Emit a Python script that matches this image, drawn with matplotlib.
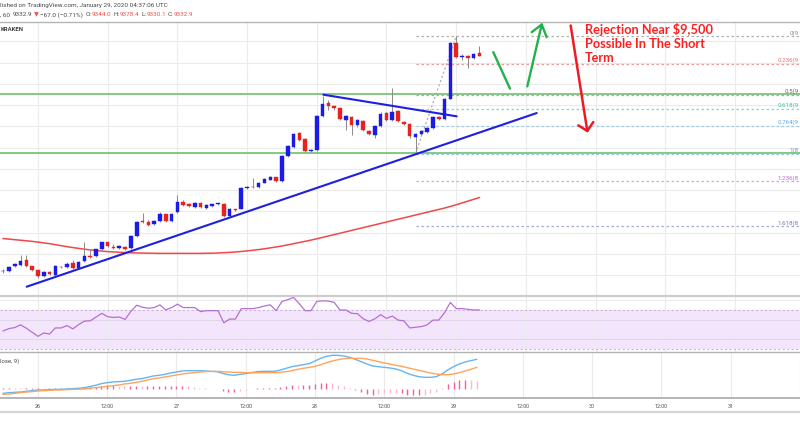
import matplotlib
matplotlib.use("Agg")
import matplotlib.pyplot as plt
from matplotlib.lines import Line2D

W, H = 800, 430

# ---------------- data ----------------
hours = list(range(-6, 77))  # hours since Jan 26 00:00 (60 min candles)
opens = [8317.6, 8320.4, 8341.1, 8347.2, 8370.7, 8341.1, 8322.3, 8294.1, 8315.7, 8301.6,
         8339.2, 8337.8, 8358.0, 8331.7, 8366.0, 8390.9, 8389.5, 8422.4, 8453.9, 8433.2,
         8427.1, 8433.2, 8425.7, 8483.5, 8554.0, 8547.9, 8539.9, 8554.0, 8585.5, 8554.0,
         8596.3, 8641.9, 8633.9, 8619.8, 8640.0, 8616.5, 8625.9, 8632.5, 8635.3, 8577.5,
         8610.4, 8611.8, 8710.5, 8715.2, 8713.8, 8735.9, 8750.0, 8760.8, 8743.4, 8859.5,
         8903.2, 8970.9, 8942.7, 8884.4, 8887.7, 9048.9, 9110.0, 9097.8, 9088.4, 9032.0,
         9045.2, 9005.2, 9025.4, 8978.4, 8961.5, 9001.9, 9061.6, 9028.7, 9071.0, 9020.7,
         9009.9, 8950.2, 8966.2, 8973.7, 8992.5, 9044.2, 9034.8, 9130.7, 9393.9, 9326.2,
         9332.8, 9321.5, 9344.0]
highs = [8328.4, 8342.5, 8355.2, 8394.2, 8394.2, 8344.9, 8326.1, 8319.0, 8319.0, 8347.2,
         8342.5, 8361.3, 8370.7, 8368.4, 8456.7, 8417.7, 8424.8, 8457.7, 8457.7, 8445.9,
         8441.2, 8438.9, 8488.2, 8556.4, 8591.6, 8558.7, 8561.1, 8596.3, 8589.3, 8594.0,
         8676.2, 8652.7, 8638.6, 8645.7, 8643.3, 8633.9, 8636.3, 8641.0, 8638.6, 8615.1,
         8612.8, 8713.8, 8718.5, 8756.1, 8739.7, 8756.1, 8765.5, 8763.2, 8864.2, 8911.2,
         8970.0, 8974.7, 8946.5, 8892.4, 9052.2, 9141.5, 9122.7, 9101.6, 9092.2, 9052.2,
         9049.9, 9033.4, 9028.7, 8981.7, 9005.2, 9066.3, 9066.3, 9179.1, 9075.7, 9024.0,
         9014.6, 8970.0, 8981.7, 8995.8, 9047.5, 9047.5, 9134.5, 9397.7, 9424.9, 9338.9,
         9336.6, 9343.6, 9378.4]
lows = [8309.6, 8316.6, 8337.8, 8344.9, 8337.8, 8319.0, 8287.5, 8290.8, 8300.2, 8297.9,
        8333.1, 8333.1, 8330.8, 8328.4, 8361.3, 8382.5, 8384.8, 8417.7, 8434.2, 8422.4,
        8422.4, 8420.1, 8422.4, 8478.8, 8544.6, 8530.5, 8535.2, 8549.3, 8549.3, 8549.3,
        8591.6, 8624.5, 8619.8, 8615.1, 8615.1, 8610.4, 8622.2, 8629.2, 8572.8, 8572.8,
        8603.4, 8610.4, 8706.8, 8709.1, 8709.1, 8732.6, 8746.7, 8737.3, 8739.7, 8854.8,
        8899.5, 8930.0, 8878.3, 8880.7, 8883.0, 9045.2, 9075.7, 9075.7, 9028.7, 8981.7,
        8958.2, 8998.2, 8977.0, 8958.2, 8944.1, 8998.2, 9024.0, 9024.0, 9021.7, 9005.2,
        8946.5, 8872.2, 8960.6, 8970.0, 8988.8, 9031.1, 9031.1, 9127.4, 9322.5, 9310.7,
        9274.5, 9315.4, 9330.1]
closes = [8320.4, 8339.2, 8350.5, 8366.0, 8341.1, 8322.3, 8295.5, 8312.9, 8304.9, 8342.5,
          8336.4, 8353.3, 8334.5, 8362.7, 8390.9, 8386.2, 8421.0, 8453.9, 8437.9, 8425.7,
          8435.1, 8422.4, 8483.5, 8550.7, 8547.9, 8536.6, 8554.0, 8585.5, 8554.0, 8588.3,
          8644.7, 8627.8, 8624.5, 8640.0, 8618.4, 8630.6, 8633.9, 8638.6, 8577.5, 8611.8,
          8607.1, 8710.5, 8715.2, 8713.8, 8735.9, 8751.4, 8762.2, 8742.0, 8860.9, 8906.5,
          8966.2, 8934.7, 8884.4, 8889.1, 9048.9, 9107.2, 9097.8, 9088.4, 9033.4, 9047.5,
          9005.2, 9028.7, 8981.7, 8962.9, 9001.9, 9060.2, 9028.7, 9067.7, 9025.4, 9009.9,
          8953.5, 8966.2, 8978.4, 8992.5, 9044.2, 9034.8, 9129.8, 9393.9, 9326.2, 9332.8,
          9321.5, 9338.9, 9332.9]
moving_avg = [8471.8, 8469.4, 8466.6, 8464.2, 8461.4, 8458.6, 8455.3, 8451.5, 8447.8, 8443.1,
              8438.4, 8433.7, 8429.5, 8425.7, 8421.9, 8418.6, 8415.4, 8413.0, 8410.7, 8408.8,
              8407.4, 8406.0, 8405.0, 8404.1, 8403.6, 8403.1, 8402.6, 8402.2, 8402.2, 8402.2,
              8402.2, 8402.2, 8402.2, 8402.2, 8402.2, 8402.6, 8403.1, 8404.1, 8405.5, 8406.9,
              8408.8, 8411.1, 8413.9, 8416.8, 8420.1, 8423.8, 8428.0, 8432.3, 8437.0, 8442.1,
              8447.8, 8453.4, 8459.1, 8464.7, 8470.8, 8477.4, 8484.0, 8490.6, 8497.1, 8503.7,
              8510.3, 8516.9, 8523.5, 8530.0, 8536.6, 8543.2, 8549.8, 8556.4, 8562.9, 8569.5,
              8576.1, 8582.7, 8589.3, 8595.8, 8602.4, 8609.0, 8615.6, 8623.1, 8631.1, 8639.5,
              8648.0, 8656.5, 8664.9]
rsi = [48.3, 50.7, 51.8, 54.6, 51.1, 46.9, 42.7, 46.2, 45.1, 51.4,
       51.4, 53.9, 50.4, 54.9, 58.5, 58.8, 62.7, 66.5, 63.0, 62.3,
       62.7, 60.2, 68.6, 74.9, 72.8, 71.8, 72.5, 75.3, 70.0, 72.5,
       76.0, 72.5, 72.5, 72.5, 68.3, 69.3, 69.3, 69.3, 56.7, 60.6,
       60.6, 71.4, 71.4, 71.4, 72.5, 74.2, 75.3, 69.3, 78.8, 80.6,
       83.0, 76.4, 69.3, 69.3, 78.8, 79.5, 79.2, 77.8, 70.0, 70.0,
       66.5, 66.2, 60.9, 58.1, 60.9, 65.1, 61.3, 63.7, 59.5, 58.8,
       51.4, 52.1, 52.8, 54.6, 59.5, 59.5, 67.2, 77.8, 71.4, 71.4,
       70.7, 70.0, 70.0]
macd = [-13, -11, -10, -9, -7, -5, -3, -3, -2, -1,
        -1, 0, 1, 2, 4, 7, 11, 16, 19, 21,
        22, 23, 26, 29, 31, 35, 39, 41, 44, 48,
        51, 54, 55, 55, 55, 54, 53, 52, 47, 43,
        41, 44, 46, 49, 52, 53, 53, 53, 57, 62,
        67, 70, 73, 76, 84, 92, 98, 101, 101, 99,
        95, 89, 82, 75, 69, 67, 65, 63, 60, 55,
        47, 41, 37, 35, 35, 37, 45, 57, 67, 75,
        81, 85, 89]
signal = [-16, -15, -13, -11, -9, -8, -6, -5, -4, -3,
          -3, -2, -1, -1, 0, 2, 4, 6, 8, 10,
          12, 15, 17, 20, 23, 27, 31, 33, 36, 39,
          42, 45, 47, 49, 51, 52, 53, 53, 52, 51,
          50, 50, 49, 49, 49, 49, 49, 49, 50, 52,
          55, 59, 62, 65, 68, 73, 79, 84, 88, 91,
          92, 92, 92, 90, 86, 82, 78, 75, 71, 68,
          64, 60, 56, 52, 48, 45, 43, 43, 45, 49,
          54, 59, 65]
hist = [3, 4, 3, 2, 2, 3, 3, 2, 2, 2,
        2, 2, 2, 3, 4, 5, 7, 10, 11, 11,
        10, 8, 9, 9, 8, 8, 8, 8, 8, 9,
        9, 9, 8, 6, 4, 2, 0, -1, -5, -8,
        -9, -6, -3, 0, 3, 4, 4, 4, 7, 10,
        12, 11, 11, 11, 16, 19, 19, 17, 13, 8,
        3, -3, -10, -15, -17, -15, -13, -12, -11, -13,
        -17, -19, -19, -17, -13, -8, 2, 14, 22, 26,
        27, 26, 24]

tick_hours = [0, 12, 24, 36, 48, 60, 72, 84, 96, 108, 120, 132]
tick_labels = ['26', '12:00', '27', '12:00', '28', '12:00', '29', '12:00',
               '30', '12:00', '31', '']
price_grid = [8300, 8400, 8500, 8600, 8700, 8800, 8900, 9000, 9100, 9200, 9300, 9400]

support_levels = [9151.0, 8873.6]
fib_high, fib_low = 9424.9, 8872.2
fib_start_hour, fib_end_hour = 65, 72
fib_ratios = [0, 0.236, 0.5, 0.618, 0.764, 1, 1.236, 1.618]
fib_line_colors = ['#b0b0b0', '#f19a9a', '#8fbf8f', '#7fdcc4', '#9fcbf0', '#8ec7f2', '#d6a6e2', '#a4acdf']
fib_text_colors = ['#8a8a8a', '#e57373', '#666666', '#3dbf9f', '#5aa9e6', '#4aa3df', '#b66ccc', '#6f7bc9']

triangle_support = ([-1.95, 85.87], [8245.2, 9063.0])
triangle_resist = ([49.12, 72.09], [9149.5, 9047.5])
green_stroke = ([78.39, 81.27], [9349.7, 9177.7])
green_arrow = ([84.25, 86.73], [9188.5, 9479.9])
green_head = ([85.0, 86.73, 87.58], [9443.7, 9479.9, 9420.2])
red_arrow = ([91.72, 94.58], [9475.2, 8978.4])
red_head = ([93.03, 94.58, 95.61], [9005.2, 8978.4, 9020.7])

# ---------------- layout helpers ----------------
X0, X1 = -6.54, 131.2
fig = plt.figure(figsize=(W / 100, H / 100), dpi=100)
fig.patch.set_facecolor('white')


def rect(top, bottom):
    return [0, 1 - bottom / H, 1, (bottom - top) / H]


def ftext(x, y, s, **kw):
    return fig.text(x / W, 1 - y / H, s, **kw)


def hline_px(y, x0, x1, **kw):
    fig.add_artist(Line2D([x0 / W, x1 / W], [1 - y / H, 1 - y / H], transform=fig.transFigure, **kw))


ax = fig.add_axes(rect(21.5, 295))
ax_rsi = fig.add_axes(rect(295, 352))
ax_macd = fig.add_axes(rect(352, 398))

grid_c = '#ebebeb'
for a in (ax, ax_rsi, ax_macd):
    a.set_xlim(X0, X1)
    a.set_facecolor('none')
    for s in a.spines.values():
        s.set_visible(False)
    a.tick_params(length=0, labelleft=False, labelbottom=False)
    a.set_yticks([])
    for t in tick_hours:
        a.axvline(t, color=grid_c, lw=0.8, zorder=0.5)

ax.set_xticks([])
ax_rsi.set_xticks([])

# ---------------- main panel ----------------
ax.set_ylim(8206.2, 9494)
for p in price_grid:
    ax.axhline(p, color=grid_c, lw=0.8, zorder=0.5)
ax.spines['top'].set_visible(True)
ax.spines['top'].set_color('#b5b5b5')
ax.spines['top'].set_linewidth(1.0)

for lvl in support_levels:
    ax.axhline(lvl, color='#62bb62', lw=1.1, zorder=2)

ax.plot(hours, moving_avg, color='#f0484a', lw=1.1, zorder=2)

# fib retracement (labels are cut by the right edge of the screenshot)
ax.plot([fib_start_hour, fib_end_hour], [fib_low, fib_high], color='#a8a8a8',
        lw=0.8, ls=(0, (2, 2)), zorder=2)
for r, lc, tc in zip(fib_ratios, fib_line_colors, fib_text_colors):
    price = fib_high - r * (fib_high - fib_low)
    ax.hlines(price, fib_start_hour, X1 + 5, colors=lc, lw=0.9, linestyles=(0, (2, 2)), zorder=2)
    visible = f'{r:g}({price:.0f}'[:len(f'{r:g}') + 2]
    ax.annotate(visible, xy=(X1, price), xycoords='data',
                xytext=(-1.5, 0.4), textcoords='offset pixels', ha='right', va='bottom',
                fontsize=4.4, color=tc, family=['Roboto', 'DejaVu Sans'], annotation_clip=False)

# candles
for t, o, h, l, c in zip(hours, opens, highs, lows, closes):
    col = '#1b1be6' if c >= o else '#e8231f'
    ax.vlines(t, l, h, color='#8a8a8a', lw=0.7, zorder=3)
    bottom = min(o, c)
    height = max(abs(c - o), 3.0)
    ax.bar(t, height, bottom=bottom, width=0.62, color=col, edgecolor=col, lw=0.3, zorder=4)

# drawings
ax.plot(*triangle_support, color='#1f1fe0', lw=1.5, zorder=5, solid_capstyle='round')
ax.plot(*triangle_resist, color='#1f1fe0', lw=1.5, zorder=5, solid_capstyle='round')
ax.plot(*green_stroke, color='#22b14c', lw=1.7, zorder=5, solid_capstyle='round')
ax.plot(*green_arrow, color='#22b14c', lw=1.7, zorder=5, solid_capstyle='round')
ax.plot(*green_head, color='#22b14c', lw=1.7, zorder=5, solid_capstyle='round', solid_joinstyle='round')
ax.plot(*red_arrow, color='#ed1c24', lw=1.8, zorder=5, solid_capstyle='round')
ax.plot(*red_head, color='#ed1c24', lw=1.8, zorder=5, solid_capstyle='round', solid_joinstyle='round')

ann_kw = dict(fontsize=9.2, color='#ff1f1f', fontweight='bold', family=['Lato', 'DejaVu Sans'], va='center')
ftext(585, 29.3, r'Rejection Near \$9,500', **ann_kw)
ftext(585, 44.0, 'Possible In The Short', **ann_kw)
ftext(585, 58.5, 'Term', **ann_kw)

# ---------------- RSI panel ----------------
ax_rsi.set_ylim(26.5, 85.5)
ax_rsi.axhspan(30, 70, color='#f3e6fc', zorder=0.2, lw=0)
for lv in (40, 60):
    ax_rsi.axhline(lv, color='#e0d6e8', lw=0.8, zorder=0.6)
ax_rsi.axhline(80, color=grid_c, lw=0.8, zorder=0.6)
for lv in (30, 70):
    ax_rsi.axhline(lv, color='#c8b6d6', lw=0.8, ls=(0, (2, 2)), zorder=0.7)
ax_rsi.plot(hours, rsi, color='#b56fd3', lw=0.9, zorder=3)

# ---------------- MACD panel ----------------
ax_macd.set_ylim(-27, 111)
prev = None
for t, v in zip(hours, hist):
    grow = (prev is None) or (abs(v) >= abs(prev))
    col = '#f06292' if grow else '#f8bbd0'
    ax_macd.vlines(t, 0, v, color=col, lw=1.0, zorder=2)
    prev = v
ax_macd.plot(hours, macd, color='#64b5f6', lw=1.0, zorder=3)
ax_macd.plot(hours, signal, color='#ffa45c', lw=1.0, zorder=3)
ax_macd.spines['bottom'].set_visible(True)
ax_macd.spines['bottom'].set_color('#a9a9a9')
ax_macd.spines['bottom'].set_linewidth(1.2)
ax_macd.set_xticks(tick_hours)
ax_macd.set_xticklabels(tick_labels)
ax_macd.tick_params(axis='x', length=0, pad=4.2, labelbottom=True, labelsize=3.9,
                    labelcolor='#505050')
for lab in ax_macd.get_xticklabels():
    lab.set_family(['Roboto', 'DejaVu Sans'])

# separators
hline_px(295.5, 0, W, color='#cdcdcd', lw=1.6)
hline_px(352, 0, W, color='#b3b3b3', lw=1.0)
hline_px(412, 0, W, color='#d4d4d4', lw=1.6)

# ---------------- header texts ----------------
fam = ['Roboto', 'DejaVu Sans']
dark, red = '#4a4a4a', '#ef5350'
hs = 4.55
ftext(0.5, 5.7, 'lished on TradingView.com, January 29, 2020 04:37:06 UTC',
      fontsize=hs, color=dark, va='center', family=fam)
parts = [(', 60', dark, 0), ('9332.9', dark, 1.4), ('\u25bc', red, 1.2),
         ('\u221267.0 (\u22120.71%)', dark, 1.2), ('O:', dark, 1.6), ('9344.0', red, 0.3),
         ('H:', dark, 1.4), ('9378.4', red, 0.3), ('L:', dark, 1.4), ('9330.1', red, 0.3),
         ('C:', dark, 1.4), ('9332.9', red, 0.3)]
prev_t = ftext(0.5, 14.7, parts[0][0], fontsize=hs, color=parts[0][1], va='center', family=fam)
for s, c, gap in parts[1:]:
    prev_t = ax.annotate(s, xy=(1, 0.5), xycoords=prev_t, xytext=(gap, 0),
                         textcoords='offset points', va='center', ha='left',
                         fontsize=hs, color=c, family=fam, annotation_clip=False)
ftext(0.5, 29.3, 'KRAKEN', fontsize=4.3, color='#3c3c3c', va='center', family=fam, fontweight='bold')
ftext(0.5, 360.7, 'lose, 9)', fontsize=4.3, color=dark, va='center', ha='left', family=fam)

fig.savefig('out.png', dpi=100)
